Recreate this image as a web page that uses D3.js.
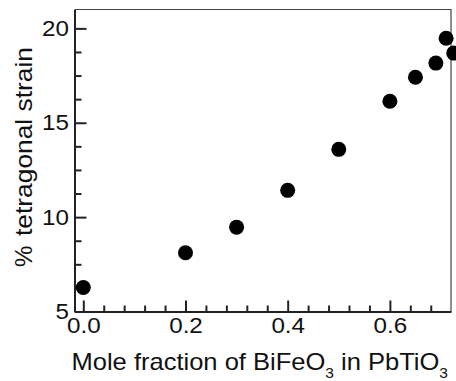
<!DOCTYPE html>
<html>
<head>
<meta charset="utf-8">
<script src="https://cdn.jsdelivr.net/npm/d3@7"></script>
<style>
  body { margin: 0; background: #fff; }
  text { font-family: "Liberation Sans", Arial, sans-serif; fill: #111; }
</style>
</head>
<body>
<div id="chart"></div>
<script>
// mole fraction of BiFeO3 and % tetragonal strain
const fraction = [0.0, 0.2, 0.3, 0.4, 0.5, 0.6, 0.65, 0.69, 0.71, 0.725];
const strain = [6.27, 8.11, 9.47, 11.42, 13.59, 16.14, 17.41, 18.16, 19.48, 18.69];

const xTicks = [0, 0.2, 0.4, 0.6];
const xMinor = [0.04, 0.08, 0.12, 0.16, 0.24, 0.28, 0.32, 0.36, 0.44, 0.48, 0.52, 0.56, 0.64, 0.68];
const yTicks = [5, 10, 15, 20];
const yMinor = [6.25, 7.5, 8.75, 11.25, 12.5, 13.75, 16.25, 17.5, 18.75];

const W = 456, H = 381;
const plotL = 74.5, plotR = 451, plotT = 9.5, plotB = 311.5;

const svg = d3.select("#chart")
    .append("svg")
    .attr("width", W)
    .attr("height", H);

const x = d3.scaleLinear()
    .domain([-0.0172, 0.7196])
    .range([plotL, plotR]);

const y = d3.scaleLinear()
    .domain([5, 21.0])
    .range([plotB, plotT]);

// thin frame on top and right
svg.append("path")
    .attr("d", `M${plotL},${plotT}H${plotR}V${plotB}`)
    .attr("fill", "none")
    .attr("stroke", "#444")
    .attr("stroke-width", 1.2);

// minor ticks first, then the major axes on top
svg.append("g")
    .attr("transform", `translate(0,${plotB})`)
    .call(d3.axisBottom(x).tickValues(xMinor).tickSizeInner(-6).tickSizeOuter(0).tickFormat(""))
    .call(g => g.select(".domain").remove())
    .call(g => g.selectAll("line").attr("stroke", "#222").attr("stroke-width", 2));

svg.append("g")
    .attr("transform", `translate(${plotL},0)`)
    .call(d3.axisLeft(y).tickValues(yMinor).tickSizeInner(-7).tickSizeOuter(0).tickFormat(""))
    .call(g => g.select(".domain").remove())
    .call(g => g.selectAll("line").attr("stroke", "#222").attr("stroke-width", 2));

const xAxis = svg.append("g")
    .attr("transform", `translate(0,${plotB})`)
    .call(d3.axisBottom(x).tickValues(xTicks).tickSizeInner(-11).tickSizeOuter(0)
        .tickPadding(6).tickFormat(d3.format(".1f")));

const yAxis = svg.append("g")
    .attr("transform", `translate(${plotL},0)`)
    .call(d3.axisLeft(y).tickValues(yTicks).tickSizeInner(-12).tickSizeOuter(0)
        .tickPadding(5).tickFormat(d3.format("d")));

[xAxis, yAxis].forEach(a => {
    a.attr("font-family", null);
    a.select(".domain").attr("stroke", "#222").attr("stroke-width", 2);
    a.selectAll("line").attr("stroke", "#222").attr("stroke-width", 2);
    a.selectAll("text")
        .attr("font-size", 22)
        .attr("fill", "#111")
        .attr("transform", "scale(1.1,1)");
});

// data points
svg.append("g")
    .selectAll("circle")
    .data(fraction)
    .join("circle")
    .attr("cx", d => x(d))
    .attr("cy", (d, i) => y(strain[i]))
    .attr("r", 7.5)
    .attr("fill", "#000");

// x axis title with subscripts
const xt = svg.append("text")
    .attr("text-anchor", "middle")
    .attr("font-size", 23)
    .attr("transform", `translate(${(plotL + plotR) / 2 - 3},370) scale(1.11,1)`);
xt.append("tspan").text("Mole fraction of BiFeO");
xt.append("tspan").attr("font-size", 14).attr("dy", 8).text("3");
xt.append("tspan").attr("dy", -8).text(" in PbTiO");
xt.append("tspan").attr("font-size", 14).attr("dy", 8).text("3");

// y axis title: the "%" sits apart from the words
svg.append("text")
    .attr("transform", "translate(32,267) rotate(-90)")
    .attr("font-size", 24)
    .text("%");

svg.append("text")
    .attr("transform", "translate(32,236) rotate(-90)")
    .attr("font-size", 24)
    .attr("textLength", 189)
    .attr("lengthAdjust", "spacingAndGlyphs")
    .text("tetragonal strain");
</script>
</body>
</html>
